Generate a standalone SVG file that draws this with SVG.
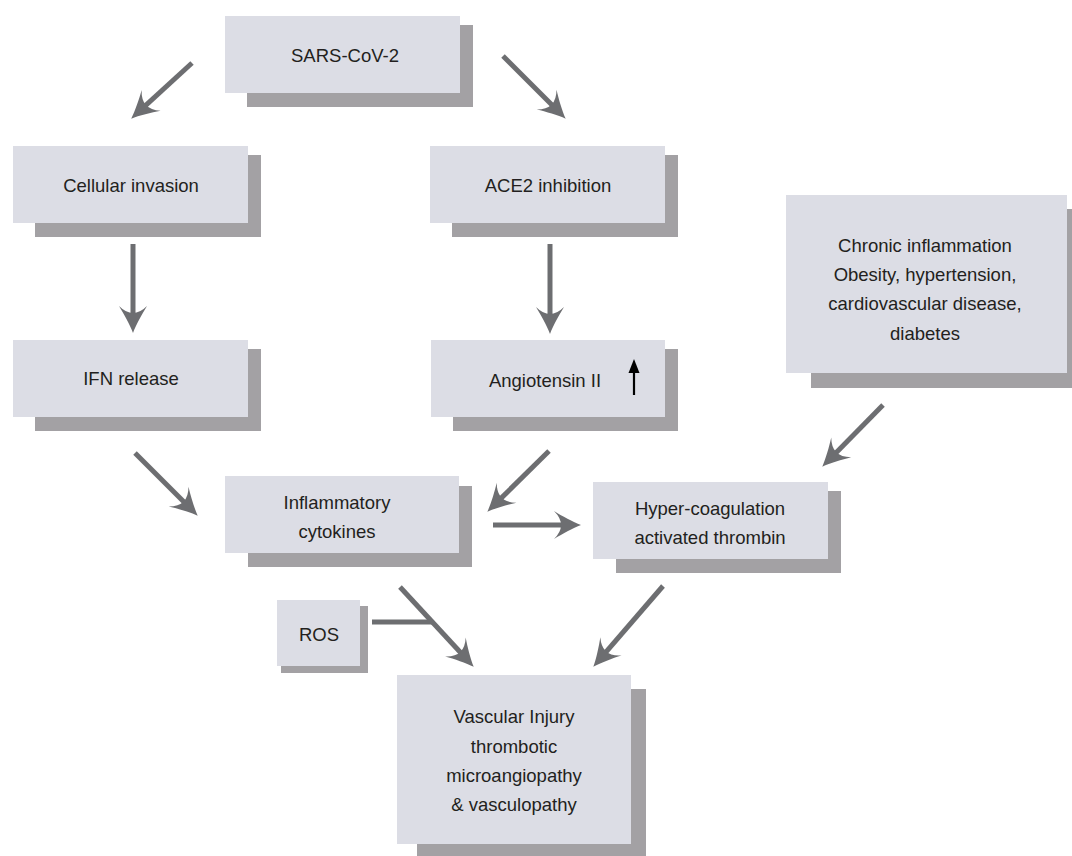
<svg xmlns="http://www.w3.org/2000/svg" width="1072" height="856" viewBox="0 0 1072 856">
<defs>
<style>
.front{fill:#dcdde5;}
.shadow{fill:#a3a1a4;}
.t{font-family:"Liberation Sans",Arial,sans-serif;font-size:18.5px;fill:#231f20;text-anchor:middle;}
.conn{stroke:#6d6e71;stroke-width:5;fill:none;}
</style>
<marker id="ah" markerUnits="userSpaceOnUse" markerWidth="40" markerHeight="40" viewBox="-20 -20 40 40" refX="0" refY="0" orient="auto">
<path d="M13,0 C5,-3 -6,-9 -14,-14 Q0,0 -14,14 C-6,9 5,3 13,0 Z" fill="#6d6e71"/>
</marker>
</defs>
<rect width="1072" height="856" fill="#ffffff"/>
<g id="connectors">
<line class="conn" x1="192" y1="63" x2="140.8" y2="109.9" marker-end="url(#ah)"/>
<line class="conn" x1="503" y1="56" x2="556.5" y2="109.5" marker-end="url(#ah)"/>
<line class="conn" x1="133" y1="244" x2="133" y2="320" marker-end="url(#ah)"/>
<line class="conn" x1="550" y1="244" x2="550" y2="321" marker-end="url(#ah)"/>
<line class="conn" x1="135" y1="453" x2="188.5" y2="506.5" marker-end="url(#ah)"/>
<line class="conn" x1="549" y1="451" x2="496.6" y2="502.6" marker-end="url(#ah)"/>
<line class="conn" x1="493" y1="525" x2="568" y2="525" marker-end="url(#ah)"/>
<line class="conn" x1="883" y1="405" x2="831.4" y2="457.4" marker-end="url(#ah)"/>
<line class="conn" x1="400" y1="587" x2="464.9" y2="657.2" marker-end="url(#ah)"/>
<line class="conn" x1="372" y1="622" x2="432" y2="622"/>
<line class="conn" x1="663" y1="586" x2="601.8" y2="656.9" marker-end="url(#ah)"/>
</g>
<g id="sars">
<rect class="shadow" x="247" y="25" width="226" height="82"/>
<rect class="front" x="225" y="16" width="235" height="77"/>
<text class="t" x="345" y="61.5">SARS-CoV-2</text>
</g>
<g id="cellular">
<rect class="shadow" x="35" y="155" width="226" height="82"/>
<rect class="front" x="13" y="146" width="235" height="77"/>
<text class="t" x="131" y="191.5">Cellular invasion</text>
</g>
<g id="ace2">
<rect class="shadow" x="452" y="155" width="226" height="82"/>
<rect class="front" x="430" y="146" width="235" height="77"/>
<text class="t" x="548" y="191.5">ACE2 inhibition</text>
</g>
<g id="ifn">
<rect class="shadow" x="35" y="349" width="226" height="82"/>
<rect class="front" x="13" y="340" width="235" height="77"/>
<text class="t" x="131" y="384.5">IFN release</text>
</g>
<g id="angiotensin">
<rect class="shadow" x="453" y="349" width="225" height="82"/>
<rect class="front" x="431" y="340" width="234" height="77"/>
<text class="t" x="545" y="386.5">Angiotensin II</text>
<line x1="634" y1="395" x2="634" y2="370" stroke="#000000" stroke-width="2.2"/>
<path d="M634,359 L628.5,373 L639.5,373 Z" fill="#000000"/>
</g>
<g id="chronic">
<rect class="shadow" x="811" y="209" width="270" height="179"/>
<rect class="front" x="786" y="195" width="281" height="178"/>
<text class="t" x="925" y="251.5">Chronic inflammation</text>
<text class="t" x="925" y="280.5">Obesity, hypertension,</text>
<text class="t" x="925" y="309.5">cardiovascular disease,</text>
<text class="t" x="925" y="339.5">diabetes</text>
</g>
<g id="inflammatory">
<rect class="shadow" x="248" y="486" width="224" height="81"/>
<rect class="front" x="225" y="476" width="234" height="77"/>
<text class="t" x="337" y="508.5">Inflammatory</text>
<text class="t" x="337" y="537.5">cytokines</text>
</g>
<g id="hyper">
<rect class="shadow" x="616" y="491" width="225" height="82"/>
<rect class="front" x="593" y="482" width="235" height="77"/>
<text class="t" x="710" y="514.5">Hyper-coagulation</text>
<text class="t" x="710" y="543.5">activated thrombin</text>
</g>
<g id="ros">
<rect class="shadow" x="281" y="606" width="87" height="67"/>
<rect class="front" x="277" y="600" width="83" height="66"/>
<text class="t" x="319" y="640.5">ROS</text>
</g>
<g id="vascular">
<rect class="shadow" x="417" y="689" width="229" height="172"/>
<rect class="front" x="397" y="675" width="234" height="169"/>
<text class="t" x="514" y="722.5">Vascular Injury</text>
<text class="t" x="514" y="752.5">thrombotic</text>
<text class="t" x="514" y="781.5">microangiopathy</text>
<text class="t" x="514" y="810.5">&amp; vasculopathy</text>
</g>
</svg>
